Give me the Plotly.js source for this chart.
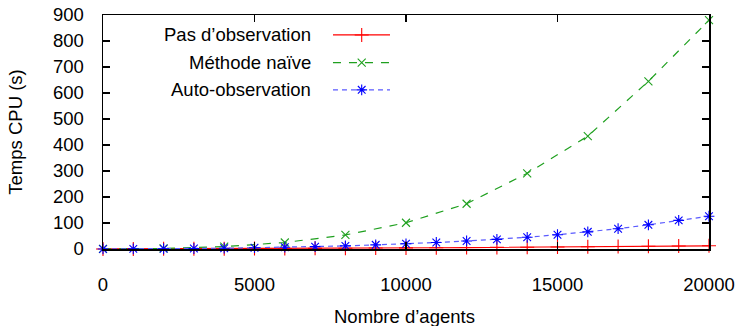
<!DOCTYPE html>
<html>
<head>
<meta charset="utf-8">
<script src="https://cdn.plot.ly/plotly-3.0.1.min.js"></script>
<style>html,body{margin:0;padding:0;background:#fff;}#chart{width:737px;height:326px;}</style>
</head>
<body>
<div id="chart"></div>
<script>
// ---- data ----
const agentsEvery1000 = [0,1000,2000,3000,4000,5000,6000,7000,8000,9000,10000,11000,12000,13000,14000,15000,16000,17000,18000,19000,20000];
const agentsEvery2000 = [0,2000,4000,6000,8000,10000,12000,14000,16000,18000,20000];
const pasObservation = [0.1,0.3,0.5,0.8,1.1,1.5,2.0,2.5,3.0,3.6,4.2,4.8,5.5,6.2,7.0,7.8,8.6,9.5,10.4,11.3,12.3];
const methodeNaive = [0.5,2,9,25,54,101,174,291,434,645,880];
const autoObservation = [0.2,0.5,1,2,3,5,7,9,12,16,20,25,31,37,45,55,66,78,93,110,126];
const seriesNames = ["Pas d\u2019observation","M\u00e9thode na\u00efve","Auto-observation"];
const xTickVals = [0,5000,10000,15000,20000];
const yTickVals = [0,100,200,300,400,500,600,700,800,900];
const xTitle = "Nombre d\u2019agents";
const yTitle = "Temps CPU (s)";

// ---- styles ----
const FONT = "Liberation Sans, Arial, Helvetica, sans-serif";
const FS = 18.5;
const styles = [
  {line:{color:"#ff0000", width:1.2, dash:"solid"}, marker:{symbol:"cross-thin-open", size:10, color:"#ff0000", line:{color:"#ff0000", width:1.1}}},
  {line:{color:"#1fa01f", width:1.2, dash:"8px,8px"}, marker:{symbol:"x-thin-open", size:8, color:"#1fa01f", line:{color:"#1fa01f", width:1.1}}},
  {line:{color:"#5a5aff", width:1.2, dash:"5px,4px"}, marker:{symbol:"asterisk-open", size:9, color:"#0000ff", line:{color:"#0000ff", width:1.1}}}
];
const xs = [agentsEvery1000, agentsEvery2000, agentsEvery1000];
const ys = [pasObservation, methodeNaive, autoObservation];

const traces = [];
for (let i = 0; i < 3; i++) {
  traces.push({
    type:"scatter", mode:"lines+markers", x:xs[i], y:ys[i], name:seriesNames[i],
    line:styles[i].line, marker:styles[i].marker, cliponaxis:false, showlegend:false
  });
}
// legend key samples (hidden overlay axes, 0..1 over the plot area)
const keyRowY = [0.9147, 0.7966, 0.6802];
const keyX0 = 0.3795, keyX1 = 0.4736, keyXm = 0.4269;
const annotations = [];
for (let i = 0; i < 3; i++) {
  traces.push({type:"scatter", mode:"lines", x:[keyX0,keyX1], y:[keyRowY[i],keyRowY[i]], xaxis:"x2", yaxis:"y2",
    line:styles[i].line, showlegend:false, hoverinfo:"skip", cliponaxis:false});
  traces.push({type:"scatter", mode:"markers", x:[keyXm], y:[keyRowY[i]], xaxis:"x2", yaxis:"y2",
    marker:styles[i].marker, showlegend:false, hoverinfo:"skip", cliponaxis:false});
  annotations.push({xref:"paper", yref:"paper", x:0.3465, y:keyRowY[i], xanchor:"right", yanchor:"middle",
    text:seriesNames[i], showarrow:false, font:{family:FONT, size:FS, color:"#000"}});
}
// x-axis title as an annotation (placed lower than the margin-constrained axis title)
annotations.push({xref:"paper", yref:"paper", x:0.4967, y:-0.2878, xanchor:"center", yanchor:"middle",
  text:xTitle, showarrow:false, font:{family:FONT, size:FS, color:"#000"}});

const axisCommon = {
  showline:true, linecolor:"#000", linewidth:1.5, mirror:"ticks",
  ticks:"inside", ticklen:7, tickwidth:1.2, tickcolor:"#000",
  showgrid:false, zeroline:false, tickfont:{family:FONT, size:FS, color:"#000"}
};
const layout = {
  width:737, height:326,
  margin:{l:103, r:28, t:15, b:76.5, pad:0},
  paper_bgcolor:"#fff", plot_bgcolor:"#fff",
  showlegend:false,
  font:{family:FONT, size:FS, color:"#000"},
  xaxis:Object.assign({}, axisCommon, {range:[0,20000], tickvals:xTickVals, ticktext:xTickVals.map(String),
    ticklabelstandoff:18}),
  yaxis:Object.assign({}, axisCommon, {range:[0,900], tickvals:yTickVals, ticktext:yTickVals.map(String),
    ticklabelstandoff:14, title:{text:yTitle, font:{family:FONT, size:FS, color:"#000"}, standoff:25}}),
  xaxis2:{overlaying:"x", range:[0,1], visible:false, fixedrange:true},
  yaxis2:{overlaying:"y", range:[0,1], visible:false, fixedrange:true},
  annotations:annotations
};
Plotly.newPlot("chart", traces, layout, {staticPlot:true, displayModeBar:false});
</script>
</body>
</html>
